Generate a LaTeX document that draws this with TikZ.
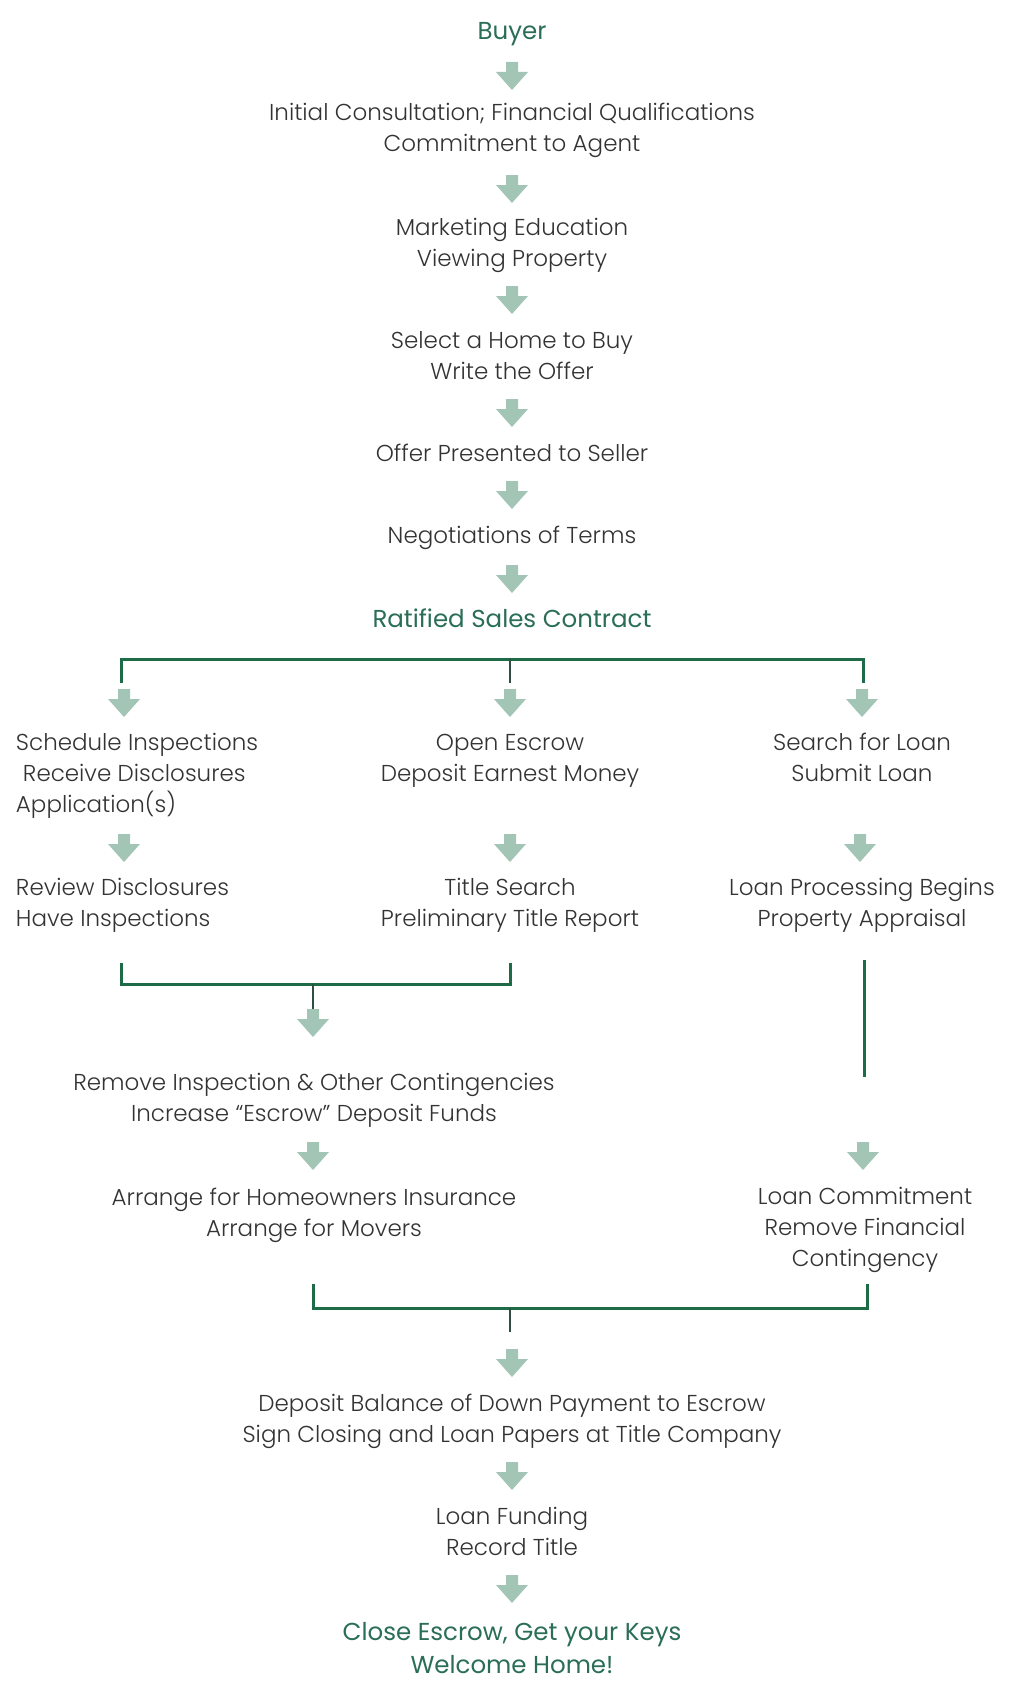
\documentclass[tikz,border=0pt]{standalone}
\usepackage{fontspec}
\setmainfont{Poppins}[UprightFont=* Light]
\newfontfamily\titlefont{Poppins}
\definecolor{bodytxt}{HTML}{333333}
\definecolor{titlegreen}{HTML}{2A6E57}
\definecolor{linegreen}{HTML}{1E6B48}
\definecolor{dropgreen}{HTML}{2E4F42}
\definecolor{arrowsage}{HTML}{A3C5B6}
\begin{document}
\begin{tikzpicture}[x=1pt,y=-1pt,
  every node/.style={inner sep=0pt,outer sep=0pt},
  txt/.style={align=center,text=bodytxt,font=\fontsize{23}{31}\selectfont},
  ltxt/.style={align=left,anchor=west,text=bodytxt,font=\fontsize{23}{31}\selectfont},
  ttl/.style={align=center,text=titlegreen,font=\titlefont\fontsize{24.5}{32}\selectfont},
  bracket/.style={draw=linegreen,line width=3pt},
  drop/.style={draw=dropgreen,line width=2pt},
  pics/downarr/.style={code={\fill[arrowsage] (-6,-14) -- (6,-14) -- (6,-4) -- (16,-4) -- (0,14) -- (-16,-4) -- (-6,-4) -- cycle;}}
]
\useasboundingbox[fill=white] (0,0) rectangle (1013,1691);

\node[ttl] (buyer) at (512,33) {\strut Buyer\strut};
\node[txt] (init) at (512,130) {\strut Initial Consultation; Financial Qualifications\\Commitment to Agent\strut};
\node[txt] (mkt) at (512,245) {\strut Marketing Education\\Viewing Property\strut};
\node[txt] (sel) at (512,357.5) {\strut Select a Home to Buy\\Write the Offer\strut};
\node[txt] (off) at (512,455.5) {\strut Offer Presented to Seller\strut};
\node[txt] (neg) at (512,537.5) {\strut Negotiations of Terms\strut};
\node[ttl] (rat) at (512,621) {\strut Ratified Sales Contract\strut};

\node[ltxt] (sched) at (16,775.5) {\strut Schedule Inspections\\\hspace*{7pt}Receive Disclosures\\Application(s)\strut};
\node[txt] (esc) at (510,760) {\strut Open Escrow\\Deposit Earnest Money\strut};
\node[txt] (loan) at (862,760) {\strut Search for Loan\\Submit Loan\strut};

\node[ltxt] (rev) at (16,905) {\strut Review Disclosures\\Have Inspections\strut};
\node[txt] (tsearch) at (510,905) {\strut Title Search\\Preliminary Title Report\strut};
\node[txt] (proc) at (862,905) {\strut Loan Processing Begins\\Property Appraisal\strut};

\node[txt] (remove) at (314,1100) {\strut Remove Inspection \& Other Contingencies\\Increase “Escrow” Deposit Funds\strut};
\node[txt] (arrange) at (314,1214.5) {\strut Arrange for Homeowners Insurance\\Arrange for Movers\strut};
\node[txt] (lcommit) at (865,1229.5) {\strut Loan Commitment\\Remove Financial\\Contingency\strut};

\node[txt] (deposit) at (512,1420.5) {\strut Deposit Balance of Down Payment to Escrow\\Sign Closing and Loan Papers at Title Company\strut};
\node[txt] (fund) at (512,1534) {\strut Loan Funding\\Record Title\strut};
\node[ttl,font=\titlefont\fontsize{24.5}{33}\selectfont] (close) at (512,1650) {\strut Close Escrow, Get your Keys\\Welcome Home!\strut};

% flow arrows
\pic at (512,76) {downarr};
\pic at (512,189) {downarr};
\pic at (512,300) {downarr};
\pic at (512,413) {downarr};
\pic at (512,495) {downarr};
\pic at (512,579) {downarr};
\pic at (124,703) {downarr};
\pic at (510,703) {downarr};
\pic at (862,703) {downarr};
\pic at (124,848) {downarr};
\pic at (510,848) {downarr};
\pic at (860,848) {downarr};
\pic at (313,1023) {downarr};
\pic at (313,1156) {downarr};
\pic at (863,1156) {downarr};
\pic at (512,1363) {downarr};
\pic at (512,1476) {downarr};
\pic at (512,1589) {downarr};

% brackets
\draw[bracket] (121,683) -- (121,659) -- (863,659) -- (863,683);
\draw[drop] (510,659) -- (510,683);
\draw[bracket] (121,963) -- (121,984) -- (510,984) -- (510,963);
\draw[drop] (313,984) -- (313,1009);
\draw[bracket] (864,960) -- (864,1077);
\draw[bracket] (313,1284) -- (313,1308) -- (867,1308) -- (867,1284);
\draw[drop] (510,1308) -- (510,1332);
\end{tikzpicture}
\end{document}
